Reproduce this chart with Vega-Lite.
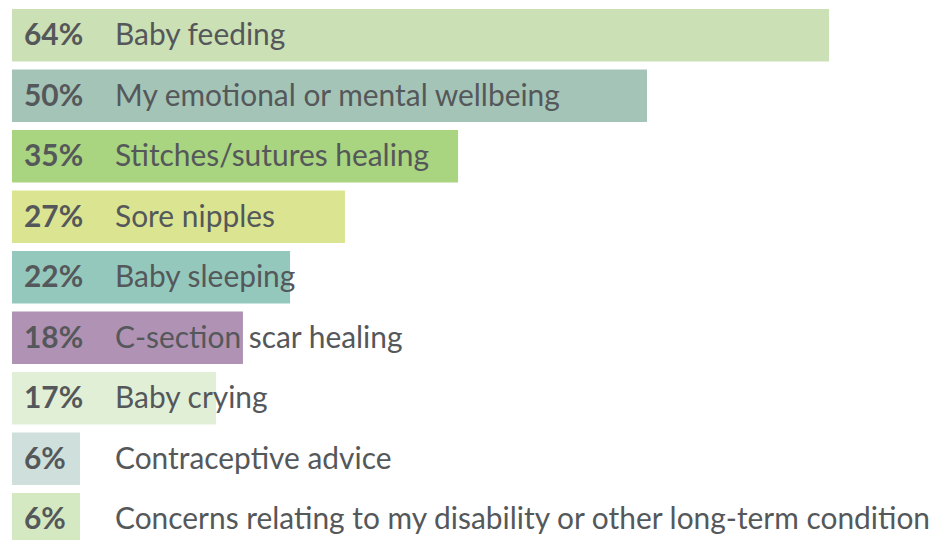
{
  "$schema": "https://vega.github.io/schema/vega-lite/v6.json",
  "width": 922,
  "height": 536.5,
  "padding": {"top": 9, "left": 12, "right": 0, "bottom": 0},
  "autosize": {"type": "none"},
  "background": "white",
  "config": {"view": {"stroke": null}},
  "data": {"values": [
    {"topic": "Baby feeding", "value": 64, "pct": "64%", "color": "#cce0b5"},
    {"topic": "My emotional or mental wellbeing", "value": 49.74, "pct": "50%", "color": "#a4c4b7"},
    {"topic": "Stitches/sutures healing", "value": 34.94, "pct": "35%", "color": "#a9d480"},
    {"topic": "Sore nipples", "value": 26.08, "pct": "27%", "color": "#dbe591"},
    {"topic": "Baby sleeping", "value": 21.78, "pct": "22%", "color": "#94c8bd"},
    {"topic": "C-section scar healing", "value": 18.09, "pct": "18%", "color": "#b092b4"},
    {"topic": "Baby crying", "value": 15.98, "pct": "17%", "color": "#e1efd7"},
    {"topic": "Contraceptive advice", "value": 5.33, "pct": "6%", "color": "#cfe0dc"},
    {"topic": "Concerns relating to my disability or other long-term condition", "value": 5.33, "pct": "6%", "color": "#d4e8c2"}
  ]},
  "encoding": {
    "y": {"field": "topic", "type": "nominal", "sort": null, "axis": null,
          "scale": {"paddingInner": 0.1322, "paddingOuter": 0}}
  },
  "layer": [
    {
      "mark": {"type": "bar", "clip": false},
      "encoding": {
        "x": {"field": "value", "type": "quantitative", "axis": null, "scale": {"domain": [0, 72.22], "nice": false}},
        "color": {"field": "color", "type": "nominal", "scale": null, "legend": null}
      }
    },
    {
      "mark": {"type": "text", "align": "left", "baseline": "middle", "dx": 12, "dy": 1, "font": "Lato", "fontSize": 29.9, "fontWeight": "bold", "fill": "#55585a"},
      "encoding": {
        "x": {"datum": 0, "type": "quantitative"},
        "text": {"field": "pct"}
      }
    },
    {
      "mark": {"type": "text", "align": "left", "baseline": "middle", "dx": 103, "dy": 1, "font": "Lato", "fontSize": 29.9, "fill": "#55585a"},
      "encoding": {
        "x": {"datum": 0, "type": "quantitative"},
        "text": {"field": "topic"}
      }
    }
  ]
}
